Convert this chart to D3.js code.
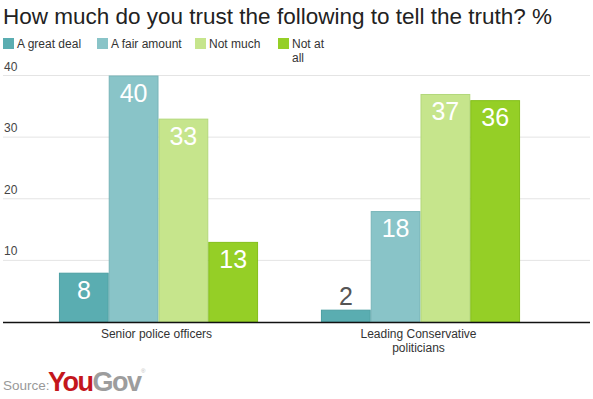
<!DOCTYPE html>
<html>
<head>
<meta charset="utf-8">
<script src="https://cdn.jsdelivr.net/npm/d3@7"></script>
<style>
  body { margin: 0; background: #fff; }
  text { font-family: "Liberation Sans", Arial, sans-serif; }
</style>
</head>
<body>
<svg></svg>
<script>
const WIDTH = 593;
const HEIGHT = 399;

const categories = ['Senior police officers', 'Leading Conservative politicians'];
const seriesNames = ['A great deal', 'A fair amount', 'Not much', 'Not at all'];
const greatDeal = [8, 2];
const fairAmount = [40, 18];
const notMuch = [33, 37];
const notAtAll = [13, 36];
const yTicks = [10, 20, 30, 40];

const colors = ['#5aadb1', '#89c4c8', '#c6e58c', '#95cf26'];
const borders = ['#4b9ea2', '#78b5b9', '#b3d87a', '#84bf1a'];

const seriesValues = [greatDeal, fairAmount, notMuch, notAtAll];

const svg = d3.select('svg').attr('width', WIDTH).attr('height', HEIGHT);

// title
svg.append('text')
  .attr('x', 3)
  .attr('y', 24)
  .attr('font-size', 22.5)
  .attr('fill', '#222')
  .text('How much do you trust the following to tell the truth? %');

// legend
const legendX = [3, 97, 195, 278];
const legend = svg.append('g');
seriesNames.forEach((name, i) => {
  const g = legend.append('g').attr('transform', `translate(${legendX[i]},38)`);
  g.append('rect').attr('width', 11).attr('height', 11).attr('fill', colors[i]);
  const t = g.append('text')
    .attr('x', 14)
    .attr('y', 9.5)
    .attr('font-size', 12)
    .attr('fill', '#333');
  if (name === 'Not at all') {
    t.append('tspan').attr('x', 14).text('Not at');
    t.append('tspan').attr('x', 14).attr('dy', 14).text('all');
  } else {
    t.text(name);
  }
});

const y = d3.scaleLinear().domain([0, 40]).range([322, 75.5]);
const x0 = d3.scaleBand().domain(categories).range([27.5, 551.5])
  .paddingInner(0.24).paddingOuter(0.12);
const x1 = d3.scaleBand().domain(seriesNames).range([0, x0.bandwidth()]);

// gridlines + tick labels
const grid = svg.append('g');
grid.selectAll('line')
  .data(yTicks)
  .join('line')
  .attr('x1', 3)
  .attr('x2', 590)
  .attr('y1', d => y(d))
  .attr('y2', d => y(d))
  .attr('stroke', '#e4e4e4')
  .attr('stroke-width', 1);
grid.selectAll('text')
  .data(yTicks)
  .join('text')
  .attr('x', 4)
  .attr('y', d => y(d) - 5)
  .attr('font-size', 12)
  .attr('fill', '#444')
  .text(d => d);

// bars
const barData = [];
categories.forEach((c, ci) => {
  seriesNames.forEach((s, si) => {
    barData.push({cat: c, series: s, si, value: seriesValues[si][ci]});
  });
});

const bars = svg.append('g');
bars.selectAll('rect')
  .data(barData)
  .join('rect')
  .attr('x', d => x0(d.cat) + x1(d.series) + 0.5)
  .attr('y', d => y(d.value) + 0.5)
  .attr('width', x1.bandwidth() - 1)
  .attr('height', d => y(0) - y(d.value) - 0.5)
  .attr('fill', d => colors[d.si])
  .attr('stroke', d => borders[d.si])
  .attr('stroke-width', 1);

bars.selectAll('text')
  .data(barData)
  .join('text')
  .attr('x', d => x0(d.cat) + x1(d.series) + x1.bandwidth() / 2)
  .attr('y', d => (y(0) - y(d.value) < 30 ? y(d.value) - 5 : y(d.value) + 26))
  .attr('text-anchor', 'middle')
  .attr('font-size', 25)
  .attr('fill', d => (y(0) - y(d.value) < 30 ? '#555' : '#fff'))
  .text(d => d.value);

// baseline
svg.append('line')
  .attr('x1', 3).attr('x2', 590)
  .attr('y1', 322.5).attr('y2', 322.5)
  .attr('stroke', '#111')
  .attr('stroke-width', 1.5);

// category labels
const catLabels = [['Senior police officers'], ['Leading Conservative', 'politicians']];
svg.append('g').selectAll('text')
  .data(categories)
  .join('text')
  .attr('text-anchor', 'middle')
  .attr('font-size', 12)
  .attr('fill', '#333')
  .each(function (d, i) {
    const cx = x0(d) + x0.bandwidth() / 2 - 2;
    catLabels[i].forEach((line, li) => {
      d3.select(this).append('tspan')
        .attr('x', cx)
        .attr('y', 338 + li * 13.5)
        .text(line);
    });
  });

// source
svg.append('text')
  .attr('x', 3)
  .attr('y', 390)
  .attr('font-size', 13.5)
  .attr('fill', '#999')
  .text('Source:');
const logo = svg.append('text')
  .attr('x', 48)
  .attr('y', 390.5)
  .attr('font-size', 27)
  .attr('font-weight', 'bold')
  .attr('letter-spacing', -1.5);
logo.append('tspan').attr('fill', '#c4161c').text('You');
logo.append('tspan').attr('fill', '#9d9d9d').text('Gov');
svg.append('text')
  .attr('x', 141)
  .attr('y', 373)
  .attr('font-size', 6)
  .attr('fill', '#bbb')
  .text('®');
</script>
</body>
</html>
